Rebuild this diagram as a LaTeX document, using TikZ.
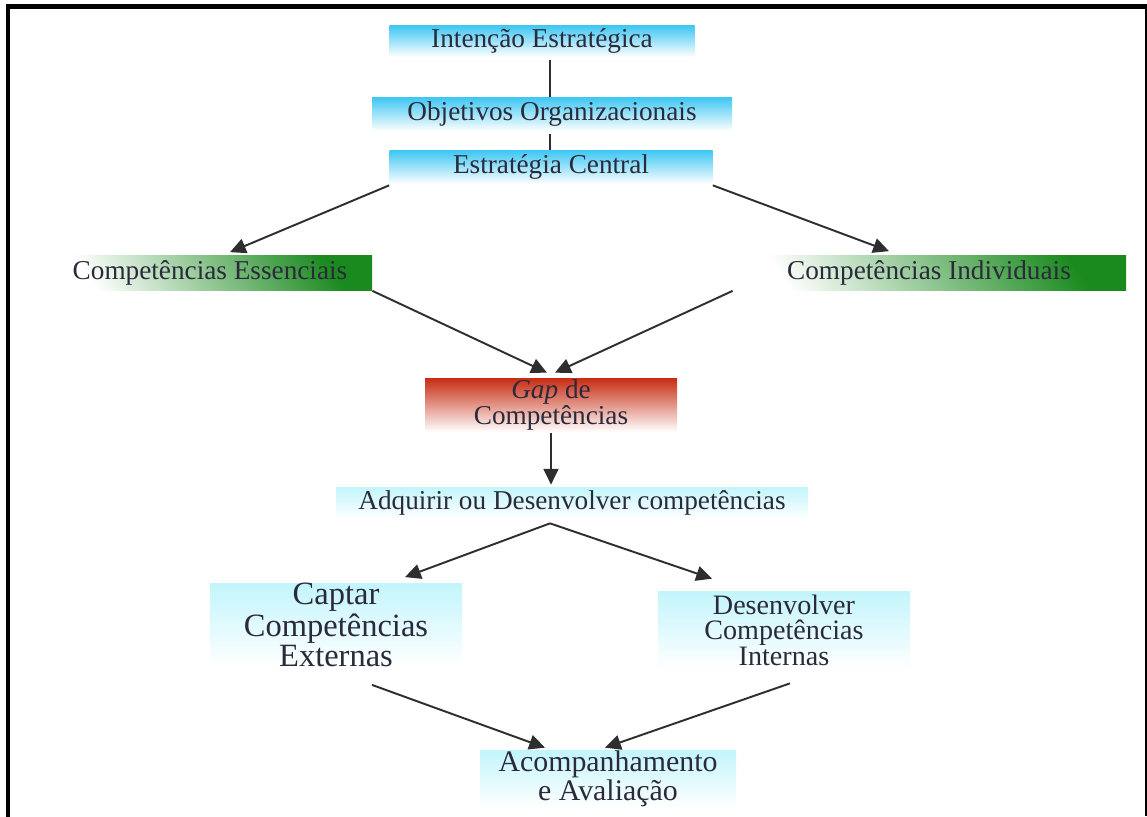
\documentclass[tikz,border=0pt]{standalone}
\usepackage{fontspec}
\setmainfont{Liberation Serif}
\usetikzlibrary{calc,arrows.meta}
\definecolor{txt}{HTML}{2A2A3A}
\definecolor{sky}{HTML}{3CC6F2}
\definecolor{palesky}{HTML}{C2F5FC}
\definecolor{leaf}{HTML}{1A8A1E}
\definecolor{brick}{HTML}{C82C12}
\definecolor{wire}{HTML}{2E2E2E}
\tikzset{
  box/.style={rectangle, inner sep=0pt, text=txt, align=center},
  skybox/.style={box, top color=sky, bottom color=white, font=\fontsize{15.5}{18}\selectfont},
  leafbox/.style={box, top color=leaf, bottom color=white, shading angle=-55, font=\fontsize{15.5}{18}\selectfont},
  redbox/.style={box, top color=brick, bottom color=white, font=\fontsize{15.5}{13}\selectfont},
  palebox/.style={box, top color=palesky, bottom color=white},
  link/.style={draw=wire, line width=1.1pt},
  arrow/.style={link, -{Triangle[length=9pt,width=8.5pt]}}
}
\begin{document}
\begin{tikzpicture}[x=0.02cm, y=-0.02cm]
  \useasboundingbox (0,0) rectangle (1147,816);
  % outer frame, open at the bottom
  \draw[line width=2.6pt, line cap=rect] (8,816) -- (8,6.5) -- (1145,6.5);
  \draw[line width=0.9pt] (1146,6.5) -- (1146,816);

  % strategy chain
  \node[skybox, minimum width=305*0.02cm, minimum height=32*0.02cm] (n1) at (542,41) {Intenção Estratégica};
  \node[skybox, minimum width=360*0.02cm, minimum height=34*0.02cm] (n2) at (552,114) {Objetivos Organizacionais};
  \node[skybox, minimum width=323*0.02cm, minimum height=34*0.02cm] (n3) at (551,167) {Estratégia Central};

  % competence branches
  \node[leafbox, minimum width=324*0.02cm, minimum height=35*0.02cm] (n4) at (210,273) {Competências Essenciais};
  \node[leafbox, minimum width=394*0.02cm, minimum height=35*0.02cm] (n5) at (929,273) {Competências Individuais};

  % gap
  \node[redbox, minimum width=252*0.02cm, minimum height=54*0.02cm] (n6) at (551,405) {\textit{Gap} de\\Competências};

  % acquisition / development
  \node[palebox, font=\fontsize{15.5}{18}\selectfont, minimum width=472*0.02cm, minimum height=32*0.02cm] (n7) at (572,503) {Adquirir ou Desenvolver competências};
  \node[palebox, font=\fontsize{18.5}{14.5}\selectfont, minimum width=252*0.02cm, minimum height=80*0.02cm] (n8) at (336,625) {Captar\\Competências\\Externas};
  \node[palebox, font=\fontsize{16}{14.5}\selectfont, minimum width=252*0.02cm, minimum height=78*0.02cm] (n9) at (784,630) {Desenvolver\\Competências\\Internas};
  \node[palebox, font=\fontsize{17}{14}\selectfont, minimum width=256*0.02cm, minimum height=58*0.02cm] (n10) at (608,779) {Acompanhamento\\e Avaliação};

  % connectors
  \draw[link] ($(n1.south)+(8,3)$) -- ($(n2.north)+(-2,0)$);
  \draw[link] ($(n2.south)+(-2,3)$) -- ($(n3.north)+(-1,0)$);
  \draw[arrow] ($(n3.south west)+(0,1)$) -- ($(n4.north)+(20,-3)$);
  \draw[arrow] ($(n3.south east)+(0,1)$) -- ($(n5.north)+(-40,-4)$);
  \draw[arrow] ($(n4.south east)+(0,0)$) -- ($(n6.north)+(-4,-5)$);
  \draw[arrow] ($(n5.south west)+(1,0)$) -- ($(n6.north)+(4,-5)$);
  \draw[arrow] ($(n6.south)+(0,1)$) -- ($(n6.south |- n7.north)+(0,-2)$);
  \draw[arrow] ($(n7.south)+(-22,4)$) -- ($(n8.north)+(69,-6)$);
  \draw[arrow] ($(n7.south)+(-22,4)$) -- ($(n9.north)+(-72,-12)$);
  \draw[arrow] ($(n8.south)+(36,18)$) -- ($(n10.north)+(-63,-2)$);
  \draw[arrow] ($(n9.south)+(6,14)$) -- ($(n10.north)+(-3,-2)$);
\end{tikzpicture}
\end{document}
